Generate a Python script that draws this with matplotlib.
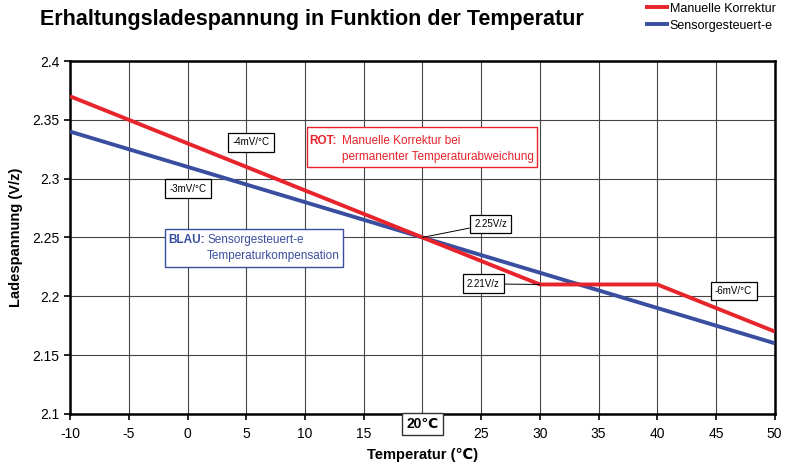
import matplotlib.pyplot as plt
from matplotlib.patches import Rectangle

plt.rcParams['font.family'] = ['Liberation Sans', 'DejaVu Sans']

temp_red = [-10, 20, 30, 40, 50]
volt_red = [2.37, 2.25, 2.21, 2.21, 2.17]
temp_blue = [-10, 50]
volt_blue = [2.34, 2.16]
x_ticks = [-10, -5, 0, 5, 10, 15, 20, 25, 30, 35, 40, 45, 50]
y_ticks = [2.1, 2.15, 2.2, 2.25, 2.3, 2.35, 2.4]
y_labels = ['2.1', '2.15', '2.2', '2.25', '2.3', '2.35', '2.4']

RED = '#e8232b'
BLUE = '#3a4ea0'

fig = plt.figure(figsize=(7.97, 4.66), dpi=100)
ax = fig.add_axes([0.088, 0.112, 0.884, 0.757])

ax.plot(temp_blue, volt_blue, color=BLUE, lw=2.8, solid_capstyle='butt', zorder=3, label='Sensorgesteuert-e')
ax.plot(temp_red, volt_red, color=RED, lw=2.8, solid_capstyle='butt', zorder=4, label='Manuelle Korrektur')

ax.set_xlim(-10, 50)
ax.set_ylim(2.1, 2.4)
ax.set_xticks(x_ticks)
ax.set_yticks(y_ticks)
ax.set_yticklabels(y_labels)
xlabels = [str(t) for t in x_ticks]
xlabels[6] = ''
ax.set_xticklabels(xlabels)
ax.tick_params(labelsize=10, direction='out', length=4, width=1.2, colors='black')
ax.tick_params(axis='x', pad=5.5)
ax.grid(True, color='#444444', lw=0.8)
ax.set_axisbelow(True)
for s in ax.spines.values():
    s.set_linewidth(1.8)

ax.text(20, 2.0915, '20℃', ha='center', va='center', fontsize=10, fontweight='bold',
        bbox=dict(boxstyle='square,pad=0.3', fc='white', ec='#333333', lw=1), clip_on=False)

ax.set_xlabel('Temperatur (℃)', fontsize=10.5, fontweight='bold', labelpad=5)
ax.set_ylabel('Ladespannung (V/z)', fontsize=10.5, fontweight='bold', labelpad=7)

fig.text(0.05, 0.958, 'Erhaltungsladespannung in Funktion der Temperatur', fontsize=15.5,
         fontweight='bold', va='center')

box = dict(boxstyle='square,pad=0.45', fc='white', ec='black', lw=0.9)
ax.text(5.4, 2.331, '-4mV/°C', fontsize=7, ha='center', va='center', bbox=box, zorder=5)
ax.text(0.05, 2.2915, '-3mV/°C', fontsize=7, ha='center', va='center', bbox=box, zorder=5)
ax.text(46.5, 2.2045, '-6mV/°C', fontsize=7, ha='center', va='center', bbox=box, zorder=5)

ax.annotate('2.25V/z', xy=(20, 2.25), xytext=(25.8, 2.2615), fontsize=7, ha='center', va='center',
            bbox=box, zorder=5, arrowprops=dict(arrowstyle='-', color='black', lw=0.7, shrinkA=0, shrinkB=0))
ax.annotate('2.21V/z', xy=(30, 2.21), xytext=(25.2, 2.2105), fontsize=7, ha='center', va='center',
            bbox=box, zorder=5, arrowprops=dict(arrowstyle='-', color='black', lw=0.7, shrinkA=0, shrinkB=0))

# Erklaerungsboxen
ax.add_patch(Rectangle((10.17, 2.3099), 19.63, 0.034, fc='white', ec=RED, lw=1, zorder=5))
ax.text(10.4, 2.332, 'ROT:', fontsize=8.5, color=RED, fontweight='bold', va='center', zorder=6)
ax.text(13.15, 2.332, 'Manuelle Korrektur bei', fontsize=8.5, color=RED, va='center', zorder=6)
ax.text(13.15, 2.3184, 'permanenter Temperaturabweichung', fontsize=8.5, color=RED, va='center', zorder=6)

ax.add_patch(Rectangle((-1.9, 2.2249), 15.1, 0.0323, fc='white', ec=BLUE, lw=1, zorder=5))
ax.text(-1.66, 2.2479, 'BLAU:', fontsize=8.5, color=BLUE, fontweight='bold', va='center', zorder=6)
ax.text(1.66, 2.2479, 'Sensorgesteuert-e', fontsize=8.5, color=BLUE, va='center', zorder=6)
ax.text(1.66, 2.2343, 'Temperaturkompensation', fontsize=8.5, color=BLUE, va='center', zorder=6)

h, l = ax.get_legend_handles_labels()
fig.legend(h[::-1], l[::-1], loc='upper left', bbox_to_anchor=(0.795, 1.018), frameon=False,
           fontsize=9, handlelength=1.9, handletextpad=0.1, labelspacing=0.4)

fig.savefig('out.png', dpi=100)
